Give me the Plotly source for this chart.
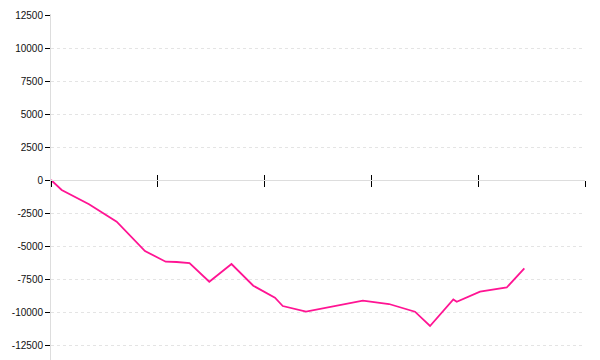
import plotly.graph_objects as go

x_vals = [0, 1.0, 3.56, 6.15, 8.8, 10.74, 11.77, 12.97, 14.82, 16.9, 18.94, 20.97, 21.7,
          23.88, 29.2, 31.65, 34.08, 35.49, 37.67, 37.99, 40.17, 42.67, 44.32]
y_vals = [0, -758, -1841, -3159, -5379, -6190, -6212, -6288, -7705, -6364, -8008, -8917, -9546,
          -9977, -9144, -9394, -9977, -11061, -9053, -9220, -8462, -8144, -6690]
y_ticks = [-12500, -10000, -7500, -5000, -2500, 0, 2500, 5000, 7500, 10000, 12500]
x_ticks = [0, 10, 20, 30, 40, 50]

y_lo, y_hi = -13636, 12576
pos = (0 - y_lo) / (y_hi - y_lo)

fig = go.Figure()
fig.add_trace(go.Scatter(x=x_vals, y=y_vals, mode="lines",
                         line=dict(color="#ff1493", width=1.8), showlegend=False,
                         hoverinfo="skip"))
fig.add_trace(go.Scatter(x=[], y=[], xaxis="x2", showlegend=False))

tickfont = dict(family="Liberation Sans, Arial", size=10, color="#111")

fig.update_layout(
    width=600, height=360,
    margin=dict(l=51, r=15, t=14, b=0),
    paper_bgcolor="white", plot_bgcolor="white",
    xaxis=dict(range=[0, 50], tickvals=x_ticks, showticklabels=False,
               ticks="outside", ticklen=6, tickcolor="#000", tickwidth=1,
               showline=True, linecolor="#dddddd", linewidth=1,
               showgrid=False, zeroline=False, anchor="free", position=pos),
    xaxis2=dict(range=[0, 50], tickvals=x_ticks, showticklabels=False,
                ticks="inside", ticklen=5, tickcolor="#000", tickwidth=1,
                showline=False, showgrid=False, zeroline=False,
                overlaying="x", anchor="free", position=pos, side="bottom"),
    yaxis=dict(range=[y_lo, y_hi], tickvals=y_ticks, ticktext=[str(v) for v in y_ticks],
               ticks="outside", ticklen=5, tickcolor="#000", tickwidth=1,
               showline=True, linecolor="#dddddd", linewidth=1,
               showgrid=True, gridcolor="#e4e4e4", griddash="dot", gridwidth=1,
               zeroline=False, tickfont=tickfont),
)

fig.write_html("out.html")
